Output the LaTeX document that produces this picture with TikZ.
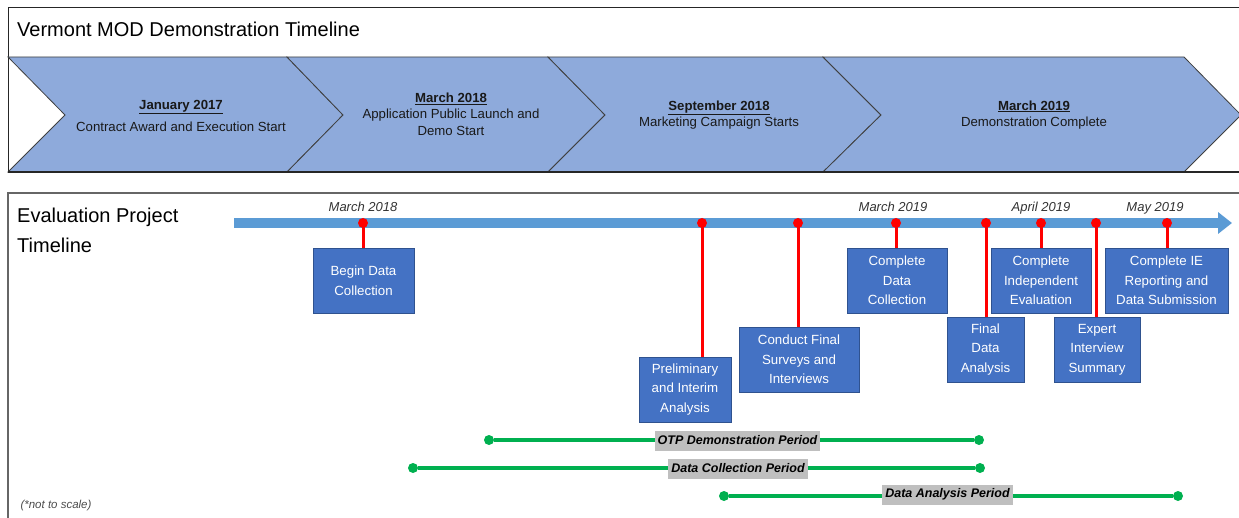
\documentclass[tikz,border=0pt]{standalone}
\usepackage{fontspec}
\setmainfont{Liberation Sans}
\usepackage{xcolor}
\usepackage{tikz}
\usetikzlibrary{arrows.meta, positioning, calc}
\definecolor{chevblue}{HTML}{8EAADB}
\definecolor{evtfill}{HTML}{4472C4}
\definecolor{evtline}{HTML}{2F528F}
\definecolor{barblue}{HTML}{5B9BD5}
\definecolor{spangreen}{HTML}{00B050}
\definecolor{lblgray}{HTML}{BFBFBF}
\tikzset{
  chev/.style={draw=black!75,fill=chevblue,line width=0.8pt,line join=miter},
  chevtxt/.style={align=center,font=\fontsize{13.2}{16.5}\selectfont,text=black!90,inner sep=0pt},
  head/.style={anchor=base west,font=\fontsize{20}{30}\selectfont,inner sep=0pt},
  evt/.style={rectangle,draw=evtline,fill=evtfill,text=white,align=center,
    font=\fontsize{13.3}{19.5}\selectfont,minimum height=65pt,inner sep=2pt},
  pin/.style={circle,fill=red,minimum size=10pt,inner sep=0pt},
  stem/.style={line width=3pt,draw=red},
  when/.style={anchor=base,font=\fontsize{13}{15}\selectfont\itshape,text=black!80,inner sep=0pt},
  bar/.style={line width=10pt,draw=barblue,-{Triangle[width=21pt,length=14pt]}},
  knob/.style={circle,fill=spangreen,minimum size=10pt,inner sep=0pt},
  span/.style={line width=3.5pt,draw=spangreen},
  period/.style={fill=lblgray,font=\fontsize{12.5}{14}\selectfont\bfseries\itshape,
    inner sep=3pt,minimum height=20pt}
}

\begin{document}
\begin{tikzpicture}[x=1pt,y=-1pt]
\useasboundingbox (0,0) rectangle (1239,518);
% demonstration timeline
\draw[line width=1pt,black!85] (8,172) -- (8,8) -- (1239,8);
\node[head] (demohead) at (17,37) {Vermont MOD Demonstration Timeline};
\draw[chev] (8,57) -- (287,57) -- (343,115) -- (287,172) -- (8,172) -- (65,115) -- cycle;
\draw[chev] (287,57) -- (548,57) -- (605,115) -- (548,172) -- (287,172) -- (343,115) -- cycle;
\draw[chev] (548,57) -- (823,57) -- (881,115) -- (823,172) -- (548,172) -- (605,115) -- cycle;
\draw[chev] (823,57) -- (1184,57) -- (1241,115) -- (1184,172) -- (823,172) -- (881,115) -- cycle;
\draw[line width=2pt,black!85] (8,172) -- (1239,172);
\node[chevtxt] (c1) at (181,116) {\underline{\textbf{January 2017}}\\[6pt]Contract Award and Execution Start};
\node[chevtxt] (c2) at (451,114) {\underline{\textbf{March 2018}}\\Application Public Launch and\\Demo Start};
\node[chevtxt] (c3) at (719,115) {\underline{\textbf{September 2018}}\\Marketing Campaign Starts};
\node[chevtxt] (c4) at (1034,115) {\underline{\textbf{March 2019}}\\Demonstration Complete};

% evaluation project timeline
\draw[line width=1.5pt,black!60] (8,518) -- (8,193) -- (1239,193);
\node[head,anchor=north west,align=left] (evalhead) at (17,207.5) {Evaluation Project\\Timeline};
\coordinate (t0) at (234,223);
\coordinate (t1) at (1232,223);
\draw[bar] (t0) -- (t1);

\node[when] (w1) at (363,212) {March 2018};
\node[when] (w2) at (893,212) {March 2019};
\node[when] (w3) at (1041,212) {April 2019};
\node[when] (w4) at (1155,212) {May 2019};

\node[evt,minimum width=101pt] (b1) at (363.5,280.5) {Begin Data\\Collection};
\node[evt,minimum width=92pt] (b2) at (685,389.5) {Preliminary\\and Interim\\Analysis};
\node[evt,minimum width=120pt] (b3) at (799,359.5) {Conduct Final\\Surveys and\\Interviews};
\node[evt,minimum width=100pt] (b4) at (897,280.5) {Complete\\Data\\Collection};
\node[evt,minimum width=77pt] (b5) at (985.5,349.5) {Final\\Data\\Analysis};
\node[evt,minimum width=100pt] (b6) at (1041,280.5) {Complete\\Independent\\Evaluation};
\node[evt,minimum width=86pt] (b7) at (1097,349.5) {Expert\\Interview\\Summary};
\node[evt,minimum width=123pt] (b8) at (1166.5,280.5) {Complete IE\\Reporting and\\Data Submission};

\foreach \i/\x in {1/363,2/702,3/798,4/896,5/986,6/1041,7/1096,8/1167}{
  \node[pin] (p\i) at (\x,223) {};
  \draw[stem] (p\i.center) -- (p\i |- b\i.north);
}

% periods
\node[knob] (o1) at (489,440) {};
\node[knob] (o2) at (979,440) {};
\draw[span] (o1) -- (o2);
\node[period] (otp) at (737.5,440.5) {OTP Demonstration Period};
\node[knob] (d1) at (413,468) {};
\node[knob] (d2) at (980,468) {};
\draw[span] (d1) -- (d2);
\node[period] (dcp) at (738,468.5) {Data Collection Period};
\node[knob] (a1) at (724,496) {};
\node[knob] (a2) at (1178,496) {};
\draw[span] (a1) -- (a2);
\node[period] (dap) at (947.5,494.5) {Data Analysis Period};

\node[anchor=base west,font=\fontsize{11.5}{13}\selectfont\itshape,text=black!70] (note) at (17,508) {(*not to scale)};
\end{tikzpicture}
\end{document}
